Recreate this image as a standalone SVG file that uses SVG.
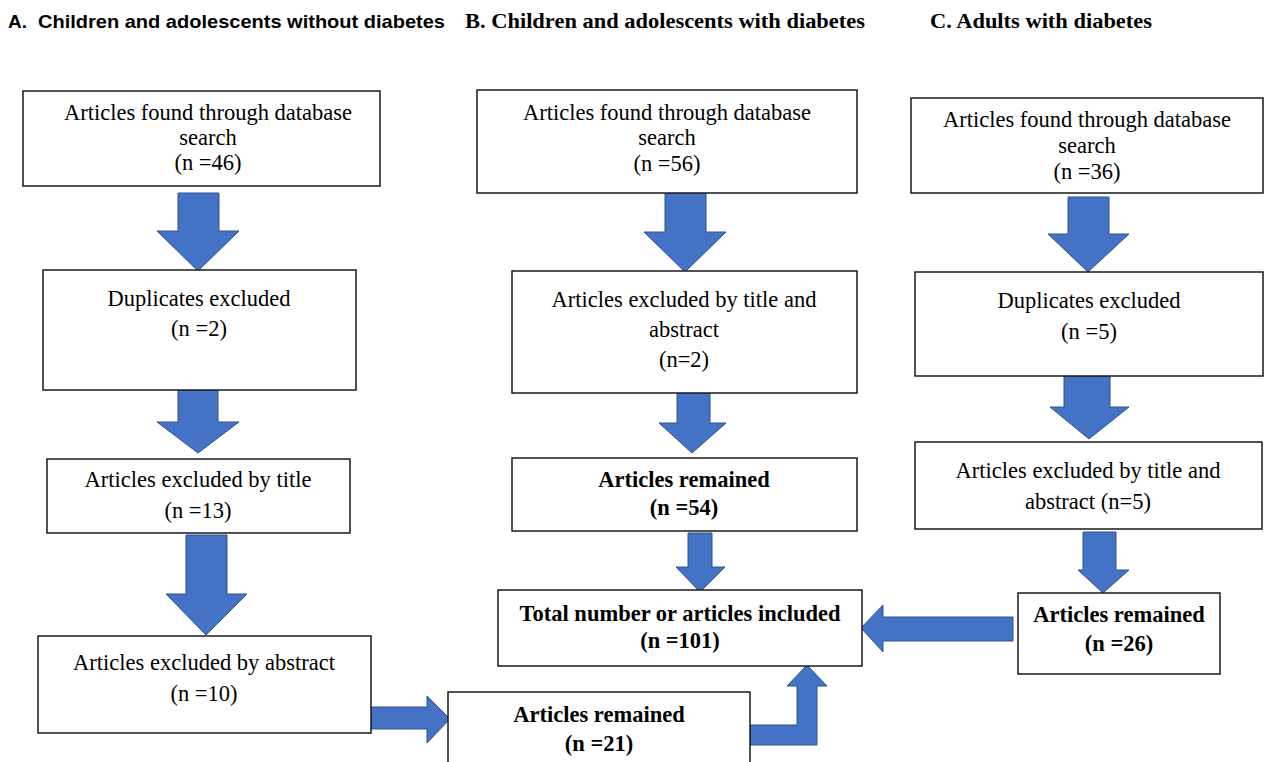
<svg xmlns="http://www.w3.org/2000/svg" width="1268" height="762" viewBox="0 0 1268 762">
<style>
.box{fill:#fff;stroke:#1a1a1a;stroke-width:1.5}
.t{font-family:"Liberation Serif","Times New Roman",serif;font-size:22.5px;fill:#000;text-anchor:middle}
.b{font-weight:bold}
.hs{font-family:"Liberation Sans",Arial,sans-serif;font-weight:bold;font-size:19px;fill:#000}
.hr{font-family:"Liberation Serif","Times New Roman",serif;font-weight:bold;font-size:21px;fill:#000}
.arr{fill:#4472C4;stroke:#2F528F;stroke-width:1}
</style>
<rect width="1268" height="762" fill="#fff"/>
<g id="headers">
<text class="hs" x="8" y="28">A.</text>
<text class="hs" x="38" y="28" textLength="407" lengthAdjust="spacingAndGlyphs">Children and adolescents without diabetes</text>
<text class="hr" x="465" y="28" textLength="400" lengthAdjust="spacingAndGlyphs">B. Children and adolescents with diabetes</text>
<text class="hr" x="930" y="28" textLength="222" lengthAdjust="spacingAndGlyphs">C. Adults with diabetes</text>
</g>
<g id="connectors">
<polygon class="arr" points="178,193 219,193 219,231 239,231 198,271 157,231 178,231"/>
<polygon class="arr" points="178,390 218,390 218,422 239,422 198,453 157,422 178,422"/>
<polygon class="arr" points="186,535 227,535 227,594 247,594 206,635 166,594 186,594"/>
<polygon class="arr" points="371,707 427,707 427,696 450,719 427,743 427,729 371,729"/>
<polygon class="arr" points="750,725 797,725 797,686 787,686 807,665 827,686 817,686 817,745 750,745"/>
<polygon class="arr" points="665,193 706,193 706,232 726,232 685,272 644,232 665,232"/>
<polygon class="arr" points="677,393 710,393 710,423 726,423 692,453 659,423 677,423"/>
<polygon class="arr" points="688,533 712,533 712,567 725,567 700,592 676,567 688,567"/>
<polygon class="arr" points="1013,617 883,617 883,605 861,628 883,652 883,641 1013,641"/>
<polygon class="arr" points="1068,197 1109,197 1109,234 1129,234 1088,272 1048,234 1068,234"/>
<polygon class="arr" points="1064,376 1110,376 1110,407 1129,407 1089,439 1050,407 1064,407"/>
<polygon class="arr" points="1083,532 1116,532 1116,570 1129,570 1103,593 1078,570 1083,570"/>
</g>
<g id="nodeA1"><rect class="box" x="23" y="91" width="357" height="95"/>
<text class="t" x="208" y="120">Articles found through database</text>
<text class="t" x="208" y="145">search</text>
<text class="t" x="208" y="170">(n =46)</text></g>
<g id="nodeA2"><rect class="box" x="43" y="270" width="313" height="120"/>
<text class="t" x="199" y="306">Duplicates excluded</text>
<text class="t" x="199" y="336">(n =2)</text></g>
<g id="nodeA3"><rect class="box" x="47" y="459" width="303" height="74"/>
<text class="t" x="198" y="487">Articles excluded by title</text>
<text class="t" x="198" y="518">(n =13)</text></g>
<g id="nodeA4"><rect class="box" x="38" y="636" width="333" height="97"/>
<text class="t" x="204" y="670">Articles excluded by abstract</text>
<text class="t" x="204" y="701">(n =10)</text></g>
<g id="nodeA5"><rect class="box" x="448" y="692" width="302" height="80"/>
<text class="t b" x="599" y="722">Articles remained</text>
<text class="t b" x="599" y="751">(n =21)</text></g>
<g id="nodeB1"><rect class="box" x="477" y="90" width="380" height="103"/>
<text class="t" x="667" y="120">Articles found through database</text>
<text class="t" x="667" y="145">search</text>
<text class="t" x="667" y="171">(n =56)</text></g>
<g id="nodeB2"><rect class="box" x="512" y="271" width="345" height="122"/>
<text class="t" x="684" y="307">Articles excluded by title and</text>
<text class="t" x="684" y="337">abstract</text>
<text class="t" x="684" y="367">(n=2)</text></g>
<g id="nodeB3"><rect class="box" x="512" y="458" width="345" height="73"/>
<text class="t b" x="684" y="487">Articles remained</text>
<text class="t b" x="684" y="515">(n =54)</text></g>
<g id="nodeB4"><rect class="box" x="498" y="590" width="364" height="76"/>
<text class="t b" x="680" y="621">Total number or articles included</text>
<text class="t b" x="680" y="648">(n =101)</text></g>
<g id="nodeC1"><rect class="box" x="911" y="98" width="352" height="95"/>
<text class="t" x="1087" y="127">Articles found through database</text>
<text class="t" x="1087" y="153">search</text>
<text class="t" x="1087" y="179">(n =36)</text></g>
<g id="nodeC2"><rect class="box" x="915" y="272" width="348" height="104"/>
<text class="t" x="1089" y="308">Duplicates excluded</text>
<text class="t" x="1089" y="339">(n =5)</text></g>
<g id="nodeC3"><rect class="box" x="915" y="442" width="347" height="87"/>
<text class="t" x="1088" y="478">Articles excluded by title and</text>
<text class="t" x="1088" y="509">abstract (n=5)</text></g>
<g id="nodeC4"><rect class="box" x="1018" y="593" width="202" height="81"/>
<text class="t b" x="1119" y="622">Articles remained</text>
<text class="t b" x="1119" y="651">(n =26)</text></g>
</svg>
